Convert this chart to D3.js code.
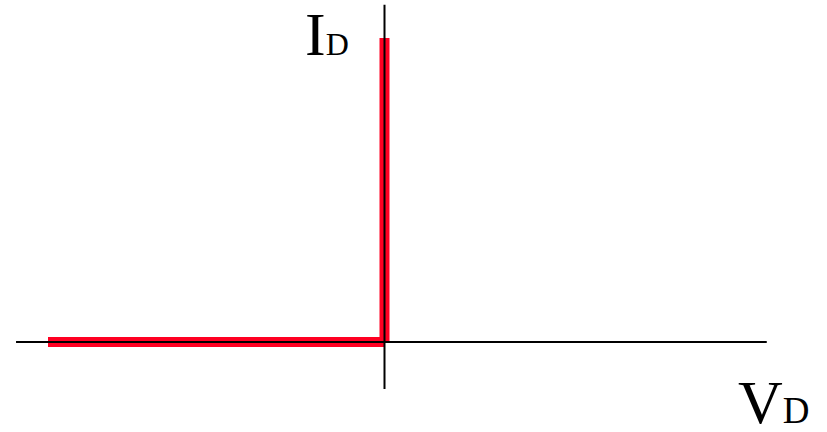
<!DOCTYPE html>
<html>
<head>
<meta charset="utf-8">
<script src="https://cdn.jsdelivr.net/npm/d3@7"></script>
<style>
  html, body { margin: 0; padding: 0; background: #fff; }
  svg { display: block; }
</style>
</head>
<body>
<div id="chart"></div>
<script>
// Chart size
const width = 827;
const height = 432;

// Axis extents (in data units, origin at 0)
const vdAxisExtent = [-1.095, 1.136];
const idAxisExtent = [-0.155, 1.109];

// Ideal diode I-V curve: flat at zero for reverse bias, vertical at V = 0
const curveV = [-1, 0, 0];
const curveI = [0, 0, 1];

// Axis labels
const xLabel = { main: "V", sub: "D" };
const yLabel = { main: "I", sub: "D" };

const x = d3.scaleLinear().domain([-1, 0]).range([48, 384.5]);
const y = d3.scaleLinear().domain([0, 1]).range([342, 38]);

const svg = d3
  .select("#chart")
  .append("svg")
  .attr("width", width)
  .attr("height", height);

// Red curve, drawn segment by segment with butt ends
const points = curveV.map((v, i) => [v, curveI[i]]);
const segments = d3.pairs(points);
const line = d3.line().x((d) => x(d[0])).y((d) => y(d[1]));

svg.selectAll(".curve")
  .data(segments)
  .enter()
  .append("path")
  .attr("class", "curve")
  .attr("d", line)
  .attr("fill", "none")
  .attr("stroke", "#ff0022")
  .attr("stroke-width", 10)
  .attr("stroke-linecap", "butt");

// Axes as plain lines through the origin
svg.append("line")
  .attr("x1", x(vdAxisExtent[0]))
  .attr("x2", x(vdAxisExtent[1]))
  .attr("y1", y(0))
  .attr("y2", y(0))
  .attr("stroke", "#000")
  .attr("stroke-width", 2);

svg.append("line")
  .attr("x1", x(0))
  .attr("x2", x(0))
  .attr("y1", y(idAxisExtent[0]))
  .attr("y2", y(idAxisExtent[1]))
  .attr("stroke", "#000")
  .attr("stroke-width", 2);

// Labels: big letter + smaller same-baseline letter
const serif = "'Liberation Serif', 'Times New Roman', serif";
function addLabel(lbl, px, py, mainSize, subSize) {
  const t = svg.append("text")
    .attr("x", px)
    .attr("y", py)
    .style("font-family", serif)
    .style("fill", "#000");
  t.append("tspan").style("font-size", mainSize + "px").text(lbl.main);
  t.append("tspan").style("font-size", subSize + "px").text(lbl.sub);
}

addLabel(yLabel, 305, 55, 62, 32);
addLabel(xLabel, 738, 423, 62, 37);
</script>
</body>
</html>
